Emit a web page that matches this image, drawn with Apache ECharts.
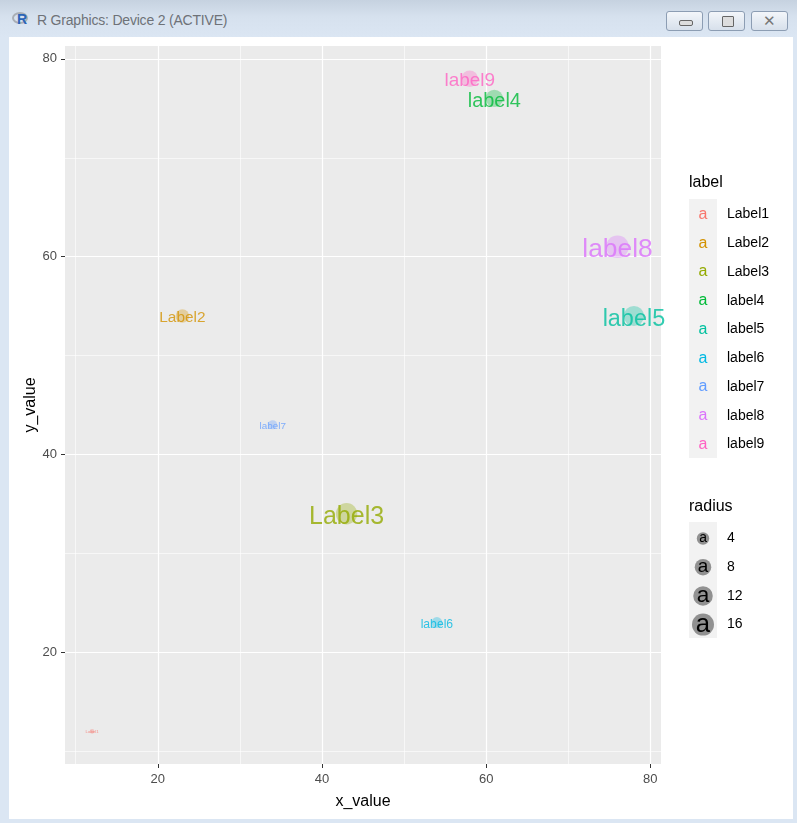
<!DOCTYPE html>
<html>
<head>
<meta charset="utf-8">
<script src="https://cdn.jsdelivr.net/npm/echarts@6/dist/echarts.min.js"></script>
<style>
  body { margin: 0; width: 797px; height: 823px; position: relative; overflow: hidden;
         background: #dbe6f3; font-family: "Liberation Sans", Arial, sans-serif; }
  #titlebar { position: absolute; left: 0; top: 0; width: 797px; height: 37px;
              background: linear-gradient(#c6d2e0, #d6e1ee 45%, #dbe6f3); }
  #logo { position: absolute; left: 12px; top: 11px; width: 18px; height: 16px; }
  #logo .ring { position: absolute; left: 0; top: 1px; width: 16px; height: 12px; border-radius: 50%;
                border: 2px solid #a9aeb5; box-sizing: border-box; }
  #logo .r { position: absolute; left: 5px; top: 0; font: bold 14px "Liberation Sans", Arial; color: #2a64b8; }
  #title { position: absolute; left: 37px; top: 12px; font-size: 14px; color: #6e7278; letter-spacing: -0.2px; }
  .btn { position: absolute; top: 11px; width: 37px; height: 20px; border: 1px solid #8c9db3;
         border-radius: 3px; background: linear-gradient(#f3f6fa, #d7e0eb); box-sizing: border-box; }
  .btn span { position: absolute; }
  #chart { position: absolute; left: 9px; top: 37px; width: 784px; height: 782px; background: #fff; }
</style>
</head>
<body>
<div id="titlebar">
  <div id="logo"><div class="ring"></div><div class="r">R</div></div>
  <div id="title">R Graphics: Device 2 (ACTIVE)</div>
  <div class="btn" style="left:666px"><span style="left:12px;top:8px;width:12px;height:4px;border:1px solid #666;border-radius:2px;background:#ddd"></span></div>
  <div class="btn" style="left:708px"><span style="left:13px;top:4px;width:10px;height:9px;border:1px solid #666;border-radius:1px;background:#ddd"></span></div>
  <div class="btn" style="left:751px"><span style="left:11px;top:0px;font:bold 15px 'DejaVu Sans';color:#777">✕</span></div>
</div>
<div id="chart"></div>
<script>
// data
const labels = ["Label1", "Label2", "Label3", "label4", "label5", "label6", "label7", "label8", "label9"];
const xValues = [12, 23, 43, 61, 78, 54, 34, 76, 58];
const yValues = [12, 54, 34, 76, 54, 23, 43, 61, 78];
const radius = [1, 5, 15, 9, 13, 3, 2, 17, 8];
const xTicks = [20, 40, 60, 80];
const yTicks = [20, 40, 60, 80];
const minorTicks = [10, 30, 50, 70];
const radiusBreaks = [4, 8, 12, 16];

// ggplot default hue palette for 9 groups
const colors = ["#F8766D", "#D39200", "#93AA00", "#00BA38", "#00C19F", "#00B9E3", "#619CFF", "#DB72FB", "#FF61C3"];

const chart = echarts.init(document.getElementById("chart"));
const FONT = "Liberation Sans";

// continuous scales expanded by 5% like ggplot
function expand(vals) {
  const lo = Math.min(...vals), hi = Math.max(...vals), pad = (hi - lo) * 0.05;
  return [lo - pad, hi + pad];
}
const [xMin, xMax] = expand(xValues);
const [yMin, yMax] = expand(yValues);

// scale_size: area palette, range 1..6
const rLo = Math.min(...radius), rHi = Math.max(...radius);
function sizeOf(r) {
  const t = Math.max(0, Math.min(1, (r - rLo) / (rHi - rLo)));
  return 1 + 5 * Math.sqrt(t);
}
const fontPx = r => sizeOf(r) * 4.4;
const dotPx = r => sizeOf(r) * 3.6 + 1;

function rgba(hex, a) {
  const n = parseInt(hex.slice(1), 16);
  return "rgba(" + (n >> 16) + "," + ((n >> 8) & 255) + "," + (n & 255) + "," + a + ")";
}

const points = labels.map((name, i) => ({
  name: name,
  value: [xValues[i], yValues[i], radius[i]],
  itemStyle: { color: rgba(colors[i], 0.4) },
  label: { color: colors[i], fontSize: fontPx(radius[i]), offset: [0, fontPx(radius[i]) * 0.13] }
}));

// legends (drawn by hand, ggplot style)
const graphics = [];
graphics.push({ type: "text", left: 680, top: 138, style: { text: "label", fontSize: 16, fontFamily: FONT, fill: "#000" } });
graphics.push({ type: "rect", shape: { x: 680, y: 162, width: 28, height: 259 }, style: { fill: "#f2f2f2" } });
labels.forEach((name, i) => {
  const cy = 177.5 + i * 28.75;
  graphics.push({ type: "text", x: 694, y: cy, style: { text: "a", fontSize: 16, fontFamily: FONT, fill: colors[i], align: "center", verticalAlign: "middle" } });
  graphics.push({ type: "text", x: 718, y: cy, style: { text: name, fontSize: 14, fontFamily: FONT, fill: "#000", verticalAlign: "middle" } });
});
graphics.push({ type: "text", left: 680, top: 462, style: { text: "radius", fontSize: 16, fontFamily: FONT, fill: "#000" } });
graphics.push({ type: "rect", shape: { x: 680, y: 485, width: 28, height: 116 }, style: { fill: "#f2f2f2" } });
radiusBreaks.forEach((r, i) => {
  const cy = 501.5 + i * 28.7;
  graphics.push({ type: "circle", shape: { cx: 694, cy: cy, r: dotPx(r) / 2 }, style: { fill: "rgba(0,0,0,0.4)" } });
  graphics.push({ type: "text", x: 694, y: cy, style: { text: "a", fontSize: fontPx(r), fontFamily: FONT, fill: "#000", align: "center", verticalAlign: "middle" } });
  graphics.push({ type: "text", x: 718, y: cy, style: { text: String(r), fontSize: 14, fontFamily: FONT, fill: "#000", verticalAlign: "middle" } });
});

const majorLine = { show: true, lineStyle: { color: "#ffffff", width: 1.2 } };
const minorLine = { show: true, lineStyle: { color: "#ffffff", width: 0.6 } };

const option = {
  animation: false,
  textStyle: { fontFamily: FONT },
  grid: { left: 56, top: 9, right: 132, bottom: 55, show: true, backgroundColor: "#ebebeb", borderWidth: 0 },
  xAxis: [
    {
      type: "value", min: xMin, max: xMax,
      name: "x_value", nameLocation: "middle", nameGap: 30,
      nameTextStyle: { fontSize: 16, color: "#000" },
      axisLine: { show: false },
      axisTick: { show: true, length: 4, lineStyle: { color: "#333" }, customValues: xTicks },
      axisLabel: { color: "#4d4d4d", fontSize: 13, margin: 9, customValues: xTicks },
      splitLine: majorLine
    },
    {
      type: "value", min: xMin, max: xMax, position: "top",
      axisLine: { show: false }, axisLabel: { show: false },
      axisTick: { show: false, customValues: minorTicks },
      splitLine: minorLine
    }
  ],
  yAxis: [
    {
      type: "value", min: yMin, max: yMax,
      name: "y_value", nameLocation: "middle", nameGap: 26, nameMoveOverlap: false,
      nameTextStyle: { fontSize: 16, color: "#000" },
      axisLine: { show: false },
      axisTick: { show: true, length: 4, lineStyle: { color: "#333" }, customValues: yTicks },
      axisLabel: { color: "#4d4d4d", fontSize: 13, margin: 8, customValues: yTicks },
      splitLine: majorLine
    },
    {
      type: "value", min: yMin, max: yMax, position: "right",
      axisLine: { show: false }, axisLabel: { show: false },
      axisTick: { show: false, customValues: minorTicks },
      splitLine: minorLine
    }
  ],
  series: [{
    type: "scatter",
    data: points,
    symbolSize: val => dotPx(val[2]),
    label: { show: true, position: "inside", formatter: "{b}", fontFamily: FONT },
    emphasis: { disabled: true }
  }],
  graphic: graphics
};
chart.setOption(option);
</script>
</body>
</html>
